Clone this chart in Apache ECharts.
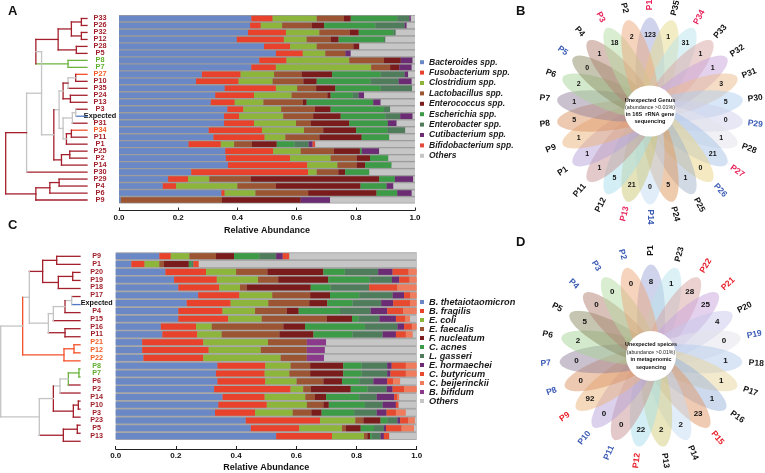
<!DOCTYPE html>
<html><head><meta charset="utf-8">
<script src="https://cdn.jsdelivr.net/npm/echarts@6/dist/echarts.min.js"></script>
<style>html,body{margin:0;padding:0;background:#fff}#c{width:765px;height:473px}</style>
</head><body><div id="c"></div><script>
const FONT = 'Liberation Sans, Arial, sans-serif';

// ---------- Panel A data ----------
const rowsA = ['P33','P26','P32','P12','P28','P5','P8','P7','P27','P10','P35','P24','P13','P3','Expected','P31','P34','P11','P1','P25','P2','P14','P30','P29','P4','P6','P9'];
const generaA = ['Bacteroides spp.','Fusobacterium spp.','Clostridium spp.','Lactobacillus spp.','Enterococcus spp.','Escherichia spp.','Enterobacter spp.','Cutibacterium spp.','Bifidobacterium spp.','Others'];
const bacteroidesA = [.447,.443,.436,.398,.490,.530,.474,.447,.280,.260,.357,.325,.310,.366,.355,.355,.303,.319,.235,.359,.361,.368,.244,.166,.148,.346,.006];
const fusobacteriumA = [.072,.036,.128,.159,.088,.091,.092,.083,.131,.144,.173,.131,.081,.054,.051,.101,.180,.173,.109,.162,.217,.268,.395,.067,.045,.011,0];
const clostridiumA = [.149,.072,.113,.077,.090,.076,.212,.322,.113,.115,.072,.127,.097,.128,.149,.142,.142,.070,.045,.093,.137,.102,.029,.072,.207,.104,0];
const lactobacillusA = [.092,.100,.103,.081,.124,.068,.117,.064,.093,.104,.064,.121,.133,.114,.101,.050,.065,.115,.060,.112,.088,.065,.073,.140,.130,.178,.342];
const enterococcusA = [.023,.042,.030,.027,.020,0,.057,.031,.103,.045,.065,.011,.013,.053,.093,.130,.111,.143,.084,.088,.045,.028,.023,.434,.286,.231,.266];
const escherichiaA = [.157,.173,.117,.153,0,0,0,0,.164,.182,.153,.075,.225,.180,.151,.130,.105,.093,.060,.006,.062,.090,.082,.053,.088,.070,0];
const enterobacterA = [.041,.099,.008,.005,0,0,0,0,.081,.095,.106,.020,0,.021,.050,0,.061,0,.048,0,0,0,0,0,0,0,0];
const cutibacteriumA = [.005,.007,0,0,0,.018,.040,.042,.012,.044,0,.018,.025,0,.042,.030,0,0,.013,.059,0,0,0,.062,.023,.049,.099];
const bifidobacteriumA = [0,0,0,0,0,0,0,0,0,0,0,0,0,0,0,0,0,0,.009,0,0,0,0,0,0,0,0];
const othersA = [.014,.028,.065,.100,.188,.217,.008,.011,.023,.011,.010,.172,.116,.084,.008,.062,.033,.087,.337,.121,.090,.079,.154,.006,.073,.011,.287];
const valuesA = [bacteroidesA,fusobacteriumA,clostridiumA,lactobacillusA,enterococcusA,escherichiaA,enterobacterA,cutibacteriumA,bifidobacteriumA,othersA];
// dendrogram merges: [childA, childB, height(0 leaf .. 1 root), vertical colour, link-up colour]
const treeA = [
 ['P33','P26',0.069,'r','r'],['P32','P12',0.069,'r','r'],['n0','n1',0.192,'r','r'],['P28','P5',0.131,'r','r'],
 ['n2','n3',0.355,'r','r'],['P8','P7',0.233,'g','g'],['n4','n5',0.629,'r','y'],
 ['P27','P10',0.139,'r','y'],['n7','P35',0.233,'y','r'],['P24','P13',0.204,'r','r'],['n8','n9',0.294,'r','y'],
 ['P3','Expected',0.139,'y','y'],['n11','P31',0.180,'y','y'],['P34','P11',0.192,'r','r'],['n13','P1',0.253,'r','y'],
 ['n12','n14',0.294,'y','y'],['n10','n15',0.343,'y','y'],['P25','P2',0.212,'r','r'],['n17','P14',0.314,'r','r'],
 ['n16','n18',0.408,'r','y'],['n6','n19',0.559,'y','y'],['n20','P30',0.743,'y','r'],
 ['P29','P4',0.343,'r','r'],['n22','P6',0.457,'r','r'],['n23','P9',0.629,'r','r'],['n21','n24',1.0,'r','r']
];
const leafUpA = {P27:'o',P34:'o',Expected:'b',P8:'g',P7:'g'};

// ---------- Panel C data ----------
const rowsC = ['P9','P1','P20','P19','P18','P17','Expected','P4','P15','P16','P11','P21','P12','P22','P8','P7','P6','P2','P14','P10','P3','P23','P5','P13'];
const speciesC = ['B. thetaiotaomicron','B. fragilis','E. coli','E. faecalis','F. nucleatum','C. acnes','L. gasseri','E. hormaechei','C. butyricum','C. beijerinckii','B. bifidum','Others '];
const thetaC = [.145,.052,.165,.194,.208,.274,.236,.208,.208,.150,.155,.088,.088,.092,.338,.333,.338,.327,.355,.341,.330,.432,.449,.533];
const fragilisC = [.038,.044,.135,.142,.136,.137,.146,.147,.166,.117,.116,.203,.221,.199,.159,.162,.159,.254,.140,.161,.133,.247,.161,.186];
const coliC = [.062,.049,.100,.137,.069,.109,.125,.108,.111,.052,.081,.215,.173,.257,.084,.082,.104,.042,.135,.133,.125,.117,.142,.106];
const faecalisC = [.088,.015,.104,.067,.022,.126,.136,.105,.216,.238,.192,.129,.153,.087,.065,.069,.089,.025,.032,.055,.062,.027,.013,.011];
const nucleatumC = [.060,.083,.186,.166,.213,.066,.060,.040,.084,.072,.113,0,0,0,.110,.110,.062,.133,.037,.018,.034,.057,.049,.009];
const acnesC = [.084,.008,.071,.137,.066,.097,.084,.137,.022,.199,.130,0,0,0,.061,.061,.057,.055,.110,.120,.108,.022,.044,.006];
const gasseriC = [.056,.007,.111,.075,.128,.111,.095,.102,.069,.108,.100,0,0,0,.085,.085,.047,.064,.058,.059,.075,.034,.033,.029];
const hormaecheiC = [.022,0,.048,.024,0,.038,.040,.055,.055,.022,.044,0,0,0,.015,.011,.046,.020,.058,.044,.033,.009,.007,.011];
const butyricumC = [.022,.018,.053,.034,.094,.020,.056,.053,.031,.026,.033,0,0,0,.047,.051,.020,.038,.011,.009,.031,.027,.052,.018];
const beijerinckiiC = [0,0,.027,.024,.064,.022,.022,.045,.016,.016,.023,0,0,0,.036,.036,.023,.042,.006,0,.033,.022,.041,0];
const bifidumC = [0,0,0,0,0,0,0,0,0,0,0,.064,.060,.057,0,0,0,0,0,0,0,0,0,0];
const othersC = [.423,.724,0,0,0,0,0,0,.022,0,.013,.301,.305,.308,0,0,.055,0,.058,.060,.036,.006,.009,.091];
const valuesC = [thetaC,fragilisC,coliC,faecalisC,nucleatumC,acnesC,gasseriC,hormaecheiC,butyricumC,beijerinckiiC,bifidumC,othersC];
const treeC = [
 ['P9','P1',0.294,'r','r'],['P20','P19',0.092,'r','r'],['n1','P18',0.273,'r','r'],['n0','n2',0.471,'r','r'],
 ['P17','Expected',0.105,'y','y'],['n4','P4',0.189,'r','y'],['n5','P15',0.336,'y','y'],['P16','P11',0.189,'r','r'],
 ['n6','n7',0.399,'y','y'],['n3','n8',0.639,'y','y'],['P21','P12',0.076,'o','o'],['n10','P22',0.202,'o','o'],
 ['n9','n11',0.723,'o','y'],['P8','P7',0.013,'g','g'],['n13','P6',0.147,'g','y'],['n14','P2',0.252,'y','y'],
 ['P14','P10',0.021,'r','r'],['n16','P3',0.084,'r','r'],['n15','n17',0.336,'r','y'],['P23','P5',0.034,'r','r'],
 ['n19','P13',0.210,'r','r'],['n18','n20',0.513,'y','y'],['n12','n21',1.0,'y','y']
];
const leafUpC = {Expected:'b',P21:'o',P12:'o',P22:'o',P8:'g',P7:'g'};

// ---------- Panel B / D data ----------
const petalsB = ['P1','P35','P34','P33','P32','P31','P30','P29','P28','P27','P26','P25','P24','P14','P13','P12','P11','P1','P9','P8','P7','P6','P5','P4','P3','P2'];
const countsB = [123,1,31,1,1,3,5,0,1,21,0,1,5,0,21,5,1,1,1,5,1,2,0,1,18,2];
const petalsD = ['P1','P23','P22','P21','P20','P19','P18','P17','P16','P15','P14','P13','P12','P11','P10','P9','P8','P7','P6','P5','P4','P3','P2'];
const countsD = [8,1,28,25,4,0,1,1,1,23,2,2,22,0,0,92,0,0,2,5,0,0,0];

// ---------- styles ----------
const colorsA = ['#6a87c6','#e8412c','#8db53c','#9c5533','#7b1c1c','#3d9a47','#4f7d5c','#6b2c74','#e24b3b','#c6c6c6'];
const colorsC = ['#6a87c6','#e8412c','#8db53c','#9c5533','#7b1c1c','#3d9a47','#4f7d5c','#6b2c74','#e84a2f','#ef7c5c','#8b3a8b','#c6c6c6'];
const TREECOL = {r:'#a3202c', g:'#6db33f', o:'#f4512a', b:'#4f78c4', y:'#c4c4c4'};
const labelColA = {P8:'#5fae2e',P7:'#5fae2e',P27:'#f25a22',P34:'#f25a22',Expected:'#111'};
const labelColC = {P8:'#5fae2e',P7:'#5fae2e',P21:'#f0602a',P12:'#f0602a',P22:'#f0602a',Expected:'#111'};
const petalColB = ['#9fa8d8','#e8dc8c','#b8e4ec','#d9a3a3','#c8a4dc','#ecbc8c','#b0cff0','#d0d0ec','#e4e4ec','#a8c4e8','#ecd484','#a4b4cc','#e0985c','#c4dcf4','#ccc874','#a8e0ec','#c89494','#b8a4dc','#ecb47c','#dc9464','#94849c','#a8d498','#8c8c64','#b48474','#b4dca4','#eca87c'];
const petalColD = ['#9fa8d8','#b8e4ec','#d9a3a3','#c8a4dc','#c8c8ec','#e4e4ec','#b4ccec','#e8d49c','#9cb4dc','#e09868','#c4dcf4','#d4cc7c','#a8e0ec','#c89494','#b8a4dc','#ecb47c','#dc9464','#94849c','#a8d498','#8c8c64','#b48474','#b4dca4','#eca87c'];
const PINK='#e8245c', BLUE='#3b5bb5', RED='#e8202a';
const labColB = {2:PINK,0:PINK,7:BLUE,9:PINK,10:BLUE,13:BLUE,14:PINK,22:BLUE,24:PINK};
const labColD = {2:RED,3:RED,5:BLUE,9:RED,12:RED,13:BLUE,14:BLUE,15:RED,16:BLUE,17:BLUE,20:BLUE,21:BLUE,22:BLUE};

function dendro(rows, tree, leafUp){
  const pos = {}; rows.forEach((r,i)=>pos[r]={y:i,h:0,up:leafUp[r]||'r'});
  const segs=[], cols=[];
  tree.forEach((m,k)=>{
    const [a,b,h,vc,uc]=m; const A=pos[a], B=pos[b];
    segs.push([A.h,A.y,h,A.y]); cols.push(A.up);
    segs.push([B.h,B.y,h,B.y]); cols.push(B.up);
    segs.push([h,A.y,h,B.y]); cols.push(vc);
    pos['n'+k]={y:(A.y+B.y)/2,h:h,up:uc};
  });
  return {segs, cols};
}
const dA = dendro(rowsA, treeA, leafUpA), dC = dendro(rowsC, treeC, leafUpC);

function treeSeries(d, idx){
  return {type:'custom', xAxisIndex:idx, yAxisIndex:idx, data:d.segs, encode:{x:[0,2],y:[1,3]}, silent:true,
    renderItem:(p,api)=>{const s=api.coord([api.value(0),api.value(1)]), e=api.coord([api.value(2),api.value(3)]);
      return {type:'line', shape:{x1:s[0],y1:s[1],x2:e[0],y2:e[1]}, style:{stroke:TREECOL[d.cols[p.dataIndex]], lineWidth:1.3, lineCap:'square'}};}};
}

function petalSeries(pi, colors){
  return {type:'custom', coordinateSystem:'polar', polarIndex:pi, silent:true, data:colors.map((c,i)=>[1,i]),
    renderItem:(p,api)=>{
      const i=p.dataIndex, c=api.coord([0,i]), o=api.coord([1,i]);
      const R=Math.hypot(o[0]-c[0],o[1]-c[1]), ux=(o[0]-c[0])/R, uy=(o[1]-c[1])/R;
      const cx=c[0]+ux*0.45*R, cy=c[1]+uy*0.45*R, a=0.555*R, b=0.155*R, pts=[];
      for(let k=0;k<64;k++){const t=k/64*2*Math.PI, ea=Math.cos(t)*a, eb=Math.sin(t)*b; pts.push([cx+ux*ea-uy*eb, cy+uy*ea+ux*eb]);}
      return {type:'polygon', shape:{points:pts}, style:{fill:colors[i], opacity:0.5}};
    }};
}
function centerSeries(pi, text, lh, fs){
  return {type:'custom', coordinateSystem:'polar', polarIndex:pi, silent:true, data:[[0,0]],
    renderItem:(p,api)=>{const c=api.coord([0,0]), o=api.coord([1,0]); const R=Math.hypot(o[0]-c[0],o[1]-c[1]);
      return {type:'group', children:[
        {type:'circle', shape:{cx:c[0],cy:c[1],r:0.275*R}, style:{fill:'#fff'}},
        {type:'text', x:c[0], y:c[1], style:{text:text, align:'center', verticalAlign:'middle', fill:'#111',
          rich:{b:{fontSize:fs,fontWeight:'bold',fontFamily:FONT,lineHeight:lh,fill:'#111'}, n:{fontSize:fs-0.2,fontFamily:FONT,lineHeight:lh,fill:'#222'}}}}
      ]};}};
}
function labelSeries(pi, names, counts, labCol, numR, labR, labFs, numFs){
  return {type:'custom', coordinateSystem:'polar', polarIndex:pi, silent:true, data:names.map((n,i)=>[1,i]),
    renderItem:(p,api)=>{
      const i=p.dataIndex, c=api.coord([0,i]), L=api.coord([labR,i]), N=api.coord([numR,i]);
      const th=Math.atan2(-(L[1]-c[1]), L[0]-c[0]);
      const rot = Math.cos(th) > -1e-6 ? th : th-Math.PI;
      return {type:'group', children:[
        {type:'text', x:L[0], y:L[1], rotation:rot, style:{text:names[i], fill:labCol[i]||'#111', fontSize:labFs, fontWeight:'bold', fontFamily:FONT, align:'center', verticalAlign:'middle'}},
        {type:'text', x:N[0], y:N[1], style:{text:String(counts[i]), fill:'#111', fontSize:numFs, fontWeight:'bold', fontFamily:FONT, align:'center', verticalAlign:'middle'}}
      ]};
    }};
}

const hidden = {show:false};
function barX(idx, offset, nameGap){
  return {gridIndex:idx, type:'value', min:0, max:1, interval:0.2, offset:offset,
    axisLine:{show:true, lineStyle:{color:'#222', width:1}}, axisTick:{show:true, inside:true, length:3, lineStyle:{color:'#222'}},
    splitLine:{show:false}, axisLabel:{formatter:v=>v.toFixed(1), fontSize:8, fontWeight:'bold', color:'#111', margin:3, fontFamily:FONT},
    name:'Relative Abundance', nameLocation:'middle', nameGap:nameGap, nameTextStyle:{fontSize:9, fontWeight:'bold', color:'#111', fontFamily:FONT}};
}
function barY(idx, rows, cmap, fs){
  return {gridIndex:idx, type:'category', data:rows, inverse:true, axisLine:hidden, axisTick:hidden,
    axisLabel:{interval:0, margin:19, align:'center', fontSize:fs, fontWeight:'bold', fontFamily:FONT, color:(v)=>cmap[v]||'#a01f2a'}};
}

const series = [treeSeries(dA,0), treeSeries(dC,2)];
generaA.forEach((g,k)=>series.push({type:'bar', name:g, stack:'A', xAxisIndex:1, yAxisIndex:1, data:valuesA[k], barCategoryGap:'20%', itemStyle:{color:colorsA[k]}, silent:true}));
speciesC.forEach((g,k)=>series.push({type:'bar', name:g, stack:'C', xAxisIndex:3, yAxisIndex:3, data:valuesC[k], barCategoryGap:'22%', itemStyle:{color:colorsC[k]}, silent:true}));
series.push(petalSeries(0, petalColB), centerSeries(0, '{b|Unexpected Genus}\n{n|(abundance >0.01%)}\n{b|in 16S  rRNA gene}\n{b|sequencing}', 7.2, 5.6), labelSeries(0, petalsB, countsB, labColB, 0.82, 1.14, 8.5, 7));
series.push(petalSeries(1, petalColD), centerSeries(1, '{b|Unexpected speices}\n{n|(abundance >0.01%)}\n{b|in metagenomic}\n{b|sequencing}', 7.5, 5.4), labelSeries(1, petalsD, countsD, labColD, 0.82, 1.16, 8.5, 8));

const legendText = {fontStyle:'italic', fontWeight:'bold', fontFamily:FONT, color:'#1a1a1a', padding:0};
const option = {
  animation:false, backgroundColor:'#fff',
  grid:[
    {left:5.7, top:15, width:81.3, height:188.5},
    {left:119, top:15, width:296, height:188.5, show:true, backgroundColor:'#9d9d9d', borderWidth:0},
    {left:0.7, top:252.3, width:79.3, height:193},
    {left:115.7, top:252.3, width:301, height:193, show:true, backgroundColor:'#a8a8a8', borderWidth:0}
  ],
  xAxis:[
    {gridIndex:0, type:'value', min:0, max:1, inverse:true, show:false},
    barX(1, 7, 16),
    {gridIndex:2, type:'value', min:0, max:1, inverse:true, show:false},
    barX(3, 9, 14)
  ],
  yAxis:[
    {gridIndex:0, type:'value', min:-0.5, max:rowsA.length-0.5, inverse:true, show:false},
    barY(1, rowsA, labelColA, 7.3),
    {gridIndex:2, type:'value', min:-0.5, max:rowsC.length-0.5, inverse:true, show:false},
    barY(3, rowsC, labelColC, 7.2)
  ],
  polar:[{center:[650,111], radius:93}, {center:[651,356], radius:91}],
  angleAxis:[
    {polarIndex:0, type:'value', min:0, max:petalsB.length, startAngle:90, clockwise:true, show:false},
    {polarIndex:1, type:'value', min:0, max:petalsD.length, startAngle:90, clockwise:true, show:false}
  ],
  radiusAxis:[
    {polarIndex:0, type:'value', min:0, max:1, show:false},
    {polarIndex:1, type:'value', min:0, max:1, show:false}
  ],
  legend:[
    {data:generaA, left:420, top:57, orient:'vertical', icon:'rect', itemWidth:4, itemHeight:4, itemGap:0, padding:0, selectedMode:false,
      textStyle:Object.assign({fontSize:8.5, lineHeight:10.4}, legendText)},
    {data:speciesC, left:420, top:297.5, orient:'vertical', icon:'rect', itemWidth:4, itemHeight:4, itemGap:0, padding:0, selectedMode:false,
      textStyle:Object.assign({fontSize:9.2, lineHeight:8.5}, legendText)}
  ],
  graphic:[
    {type:'text', left:8, top:5, style:{text:'A', font:'bold 13px '+FONT, fill:'#111'}},
    {type:'text', left:516, top:5, style:{text:'B', font:'bold 13px '+FONT, fill:'#111'}},
    {type:'text', left:8, top:219, style:{text:'C', font:'bold 13px '+FONT, fill:'#111'}},
    {type:'text', left:516, top:236, style:{text:'D', font:'bold 13px '+FONT, fill:'#111'}}
  ],
  series:series
};
const chart = echarts.init(document.getElementById('c'), null, {renderer:'canvas'});
chart.setOption(option);
</script></body></html>
